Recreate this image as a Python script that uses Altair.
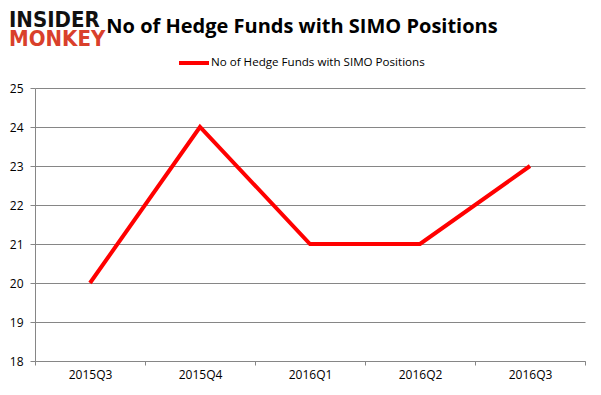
import altair as alt
import pandas as pd

quarters = ["2015Q3", "2015Q4", "2016Q1", "2016Q2", "2016Q3"]
funds = [20, 24, 21, 21, 23]
series_name = "No of Hedge Funds with SIMO Positions"
title_text = "No of Hedge Funds with SIMO Positions"
y_ticks = [18, 19, 20, 21, 22, 23, 24, 25]

df = pd.DataFrame({"quarter": quarters, "funds": funds, "series": series_name})

FONT = "Open Sans"
GRID = "#868686"

line = alt.Chart(df).mark_line(strokeWidth=4, strokeCap="butt", strokeJoin="miter", clip=False).encode(
    x=alt.X("quarter:N", sort=quarters, title=None,
            scale=alt.Scale(type="band", paddingInner=0, paddingOuter=0),
            axis=alt.Axis(labelAngle=0, tickBand="extent", domainColor=GRID, tickColor=GRID,
                          tickSize=4, labelPadding=4, labelFontSize=12, labelFont=FONT,
                          labelColor="#000000", grid=False)),
    y=alt.Y("funds:Q", title=None,
            scale=alt.Scale(domain=[18, 25], nice=False, zero=False),
            axis=alt.Axis(values=y_ticks, domainColor=GRID, tickColor=GRID, tickSize=5,
                          gridColor=GRID, gridOpacity=1, labelPadding=7, labelFontSize=12,
                          labelFont=FONT, labelColor="#000000")),
    color=alt.Color("series:N", scale=alt.Scale(range=["#FF0000"]), title=None,
                    legend=alt.Legend(orient="none", legendX=142, legendY=-42, symbolType="stroke",
                                      symbolSize=900, symbolStrokeWidth=4, labelFont=FONT,
                                      labelFontSize=11.6, labelColor="#000000", labelOffset=0,
                                      labelLimit=400)),
)

title = alt.Chart(pd.DataFrame({"t": [title_text]})).mark_text(
    font=FONT, fontSize=20, fontWeight="bold", color="#000000", align="center", baseline="alphabetic"
).encode(text="t:N", x=alt.value(267), y=alt.value(-55))

logo_top = alt.Chart(pd.DataFrame({"t": ["INSIDER"]})).mark_text(
    font="DejaVu Sans Condensed", fontSize=22, fontWeight="bold", color="#111111", align="left",
    baseline="alphabetic"
).encode(text="t:N", x=alt.value(-26), y=alt.value(-61))

logo_bot = alt.Chart(pd.DataFrame({"t": ["MONKEY"]})).mark_text(
    font="DejaVu Sans Condensed", fontSize=22, fontWeight="bold", color="#D9402B", align="left",
    baseline="alphabetic"
).encode(text="t:N", x=alt.value(-26), y=alt.value(-42))

chart = alt.layer(line, title, logo_top, logo_bot).properties(
    width=550, height=273,
    autosize=alt.AutoSizeParams(type="none"),
    padding={"left": 27, "top": 80, "right": 8, "bottom": 20},
).configure_view(stroke=None)

chart.save("out.html", embed_options={"renderer": "svg", "actions": False})
